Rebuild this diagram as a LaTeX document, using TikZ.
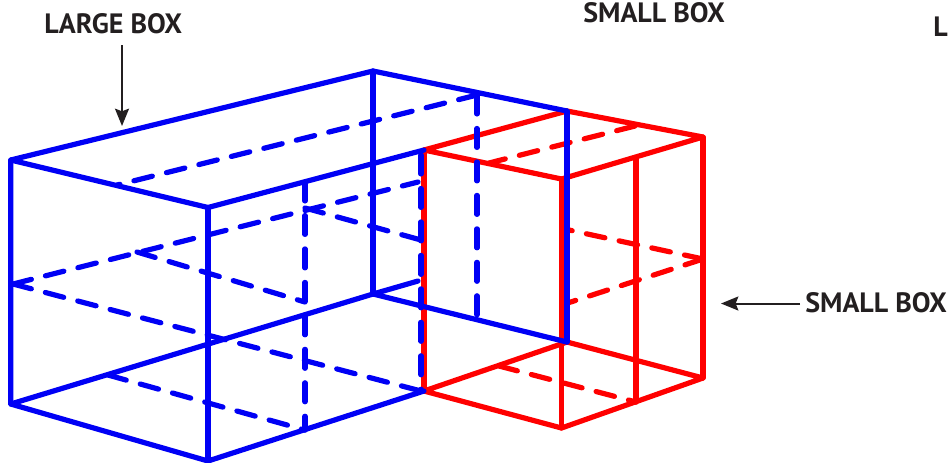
\documentclass[tikz,border=0pt]{standalone}
\usepackage{fontspec}
\setmainfont{PT Sans}
\usepackage{xcolor}
\usetikzlibrary{arrows.meta}
\definecolor{boxblue}{RGB}{0,0,245}
\definecolor{boxred}{RGB}{255,0,0}
\definecolor{labelgrey}{RGB}{35,31,32}
\tikzset{
  edge/.style={line width=3.9pt,line cap=round,line join=round},
  hidden/.style={edge,dash pattern=on 14.2pt off 10.9pt},
  boxlabel/.style={inner sep=0pt,text=labelgrey,font=\fontsize{21}{22}\selectfont\bfseries},
  pointer/.style={line width=1.5pt,draw=labelgrey,-{Stealth[length=13pt,width=10.5pt,inset=2pt]}}
}
\begin{document}
\begin{tikzpicture}
\def\u{0.75pt}
\useasboundingbox (0,0) rectangle (948*\u,-462*\u);
% small box
\coordinate (r11) at (567*\u,-111*\u);
\coordinate (r12) at (703*\u,-137*\u);
\coordinate (r13) at (561.5*\u,-179*\u);
\coordinate (r14) at (424*\u,-150*\u);
\coordinate (r21) at (567*\u,-342*\u);
\coordinate (r22) at (703*\u,-378*\u);
\coordinate (r23) at (561.5*\u,-428*\u);
\coordinate (r24) at (424*\u,-391*\u);
\coordinate (r31) at (636*\u,-158*\u);
\coordinate (r32) at (636*\u,-402*\u);
\coordinate (r41) at (635*\u,-126*\u);
\coordinate (r42) at (489*\u,-163*\u);
\coordinate (r43) at (703*\u,-259*\u);
\coordinate (r44) at (569*\u,-230*\u);
\coordinate (r45) at (561.5*\u,-305*\u);
\coordinate (r46) at (499*\u,-366*\u);

\draw[edge,boxred] (r14) -- (r11) -- (r12) -- (r13) -- cycle;
\draw[edge,boxred] (r24) -- (r21) -- (r22) -- (r23) -- cycle;
\draw[edge,boxred] (r14) -- (r24);
\draw[edge,boxred] (r13) -- (r23);
\draw[edge,boxred] (r12) -- (r22);
\draw[edge,boxred] (r31) -- (r32);
\draw[hidden,boxred] (r41) -- (r42);
\draw[hidden,boxred] (r43) -- (r44);
\draw[hidden,boxred] (r43) -- (r45);
\draw[hidden,boxred] (r46) -- (r32);

% large box
\coordinate (b11) at (10.7*\u,-160*\u);
\coordinate (b12) at (208*\u,-207.5*\u);
\coordinate (b13) at (373*\u,-71*\u);
\coordinate (b14) at (567*\u,-111*\u);
\coordinate (b15) at (424*\u,-150*\u);
\coordinate (b21) at (10.7*\u,-404*\u);
\coordinate (b22) at (208*\u,-461*\u);
\coordinate (b23) at (373*\u,-294*\u);
\coordinate (b24) at (567*\u,-342*\u);
\coordinate (b25) at (424*\u,-391*\u);
\coordinate (b26) at (418*\u,-281*\u);
\coordinate (b31) at (305*\u,-182*\u);
\coordinate (b32) at (305*\u,-430*\u);
\coordinate (b33) at (477*\u,-95*\u);
\coordinate (b34) at (477*\u,-322*\u);
\coordinate (b35) at (421*\u,-155*\u);
\coordinate (b36) at (421*\u,-391*\u);
\coordinate (b41) at (117*\u,-185*\u);
\coordinate (b42) at (13*\u,-284*\u);
\coordinate (b43) at (418*\u,-182*\u);
\coordinate (b44) at (137*\u,-252*\u);
\coordinate (b45) at (305*\u,-302*\u);
\coordinate (b46) at (305*\u,-208*\u);
\coordinate (b47) at (421*\u,-240*\u);
\coordinate (b48) at (108*\u,-375*\u);

\draw[edge,boxblue] (b12) -- (b11) -- (b13) -- (b14);
\draw[edge,boxblue] (b12) -- (b15);
\draw[edge,boxblue] (b11) -- (b21) -- (b22) -- (b25);
\draw[edge,boxblue] (b12) -- (b22);
\draw[edge,boxblue] (b13) -- (b23);
\draw[edge,boxblue] (b21) -- (b23) -- (b26);
\draw[edge,boxblue] (b23) -- (b24);
\draw[edge,boxblue] (b14) -- (b24);
\draw[hidden,boxblue] (b33) -- (b41);
\draw[hidden,boxblue] (b33) -- (b34);
\draw[hidden,boxblue] (b31) -- (b32);
\draw[hidden,boxblue] (b35) -- (b36);
\draw[hidden,boxblue] (b42) -- (b43);
\draw[hidden,boxblue] (b42) -- (b36);
\draw[hidden,boxblue] (b44) -- (b45);
\draw[hidden,boxblue] (b46) -- (b47);
\draw[hidden,boxblue] (b48) -- (b32);

% labels
\node[boxlabel,anchor=base west] (large) at (44*\u,-33*\u) {LARGE BOX};
\node[boxlabel,anchor=base west] (smalltop) at (583*\u,-22*\u) {SMALL BOX};
\node[boxlabel,anchor=base west] (smallside) at (805*\u,-312*\u) {SMALL BOX};
\node[boxlabel,anchor=base west] (cutoff) at (933*\u,-36*\u) {L};

\coordinate (p1) at (122*\u,-45*\u);
\coordinate (p2) at (122*\u,-126*\u);
\coordinate (p3) at (800*\u,-303.5*\u);
\coordinate (p4) at (721*\u,-303.5*\u);
\draw[pointer] (p1) -- (p2);
\draw[pointer] (p3) -- (p4);
\end{tikzpicture}
\end{document}
